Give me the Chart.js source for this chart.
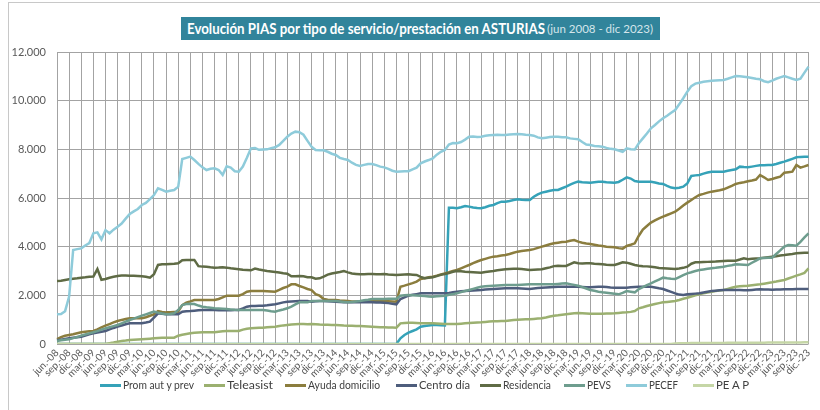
<!DOCTYPE html>
<html><head><meta charset="utf-8">
<script src="https://cdn.jsdelivr.net/npm/chart.js@4.4.1/dist/chart.umd.min.js"></script>
<style>
html,body{margin:0;padding:0;background:#fff;}
#wrap{position:relative;width:820px;height:410px;overflow:hidden;}
#frame{position:absolute;left:8px;top:2px;width:830px;height:430px;border:1px solid #C8C8C8;box-sizing:border-box;pointer-events:none;}
#title{position:absolute;left:181px;top:17px;width:479px;height:23px;background:#31849B;color:#fff;white-space:nowrap;
 font-family:Lato,sans-serif;line-height:23px;box-sizing:border-box;}
#title .t1{position:absolute;left:6px;top:0;font-size:15px;font-weight:bold;transform-origin:0 50%;}
#title .t2{position:absolute;left:366px;top:0;font-size:11.5px;color:#D5E6EB;transform-origin:0 50%;}
canvas{position:absolute;left:0;top:0;}
.lg{position:absolute;top:377px;height:16px;white-space:nowrap;line-height:16px;}
.lg i{position:absolute;left:0;top:7px;width:21px;height:3px;}
.lg span{position:absolute;left:23px;top:0;font-family:Lato,sans-serif;font-size:12px;color:#404040;transform-origin:0 50%;}
</style></head>
<body><div id="wrap">
<canvas id="c" width="820" height="410"></canvas>
<div id="frame"></div>
<div id="title"><span class="t1">Evolución PIAS por tipo de servicio/prestación en ASTURIAS</span><span class="t2">(jun 2008 - dic 2023)</span></div>
<div id="legend"></div>
</div>
<script>
const meses = ['ene','feb','mar','abr','may','jun','jul','ago','sep','oct','nov','dic'];
const seriesNames = ['Prom aut y prev','Teleasist','Ayuda domicilio','Centro día','Residencia','PEVS','PECEF','PE A P'];
const yTicks = [0,2000,4000,6000,8000,10000,12000];

const promAut = [
0,0,0,0,0,0,0,0,0,0,0,0,
0,0,0,0,0,0,0,0,0,0,0,0,
0,0,0,0,0,0,0,0,0,0,0,0,
0,0,0,0,0,0,0,0,0,0,0,0,
0,0,0,0,0,0,0,0,0,0,0,0,
0,0,0,0,0,0,0,0,0,0,0,0,
0,0,0,0,0,0,0,0,0,0,0,0,
0,233,370,466,534,603,712,740,760,781,781,770,
760,5600,5600,5576,5620,5672,5645,5610,5590,5576,5620,5680,
5713,5790,5850,5850,5880,5920,5946,5930,5918,5918,6050,6150,
6220,6260,6300,6329,6329,6400,6466,6550,6620,6672,6650,6640,
6630,6650,6672,6672,6650,6640,6630,6660,6750,6850,6800,6700,
6672,6672,6672,6672,6640,6600,6576,6500,6430,6398,6420,6466,
6600,6905,6930,6946,7000,7050,7082,7082,7082,7082,7120,7150,
7179,7288,7270,7260,7290,7320,7343,7350,7355,7357,7400,7450,
7494,7550,7610,7672,7690,7695,7700];

const teleasist = [
0,0,0,0,0,0,0,0,0,0,0,0,
0,30,60,96,120,140,164,172,182,192,205,220,
233,245,255,260,260,260,340,380,410,438,460,475,
480,480,480,480,500,520,534,534,534,534,590,630,
644,655,665,671,685,700,712,740,765,781,800,815,
822,822,815,822,815,800,795,790,785,781,770,760,
755,748,744,740,730,720,710,700,692,685,680,675,
671,849,865,877,870,862,855,852,850,849,840,830,
822,822,822,822,835,850,862,875,885,890,905,920,
930,937,942,945,968,990,1000,1010,1014,1014,1030,1045,
1055,1090,1130,1164,1180,1200,1219,1240,1260,1274,1265,1255,
1247,1247,1247,1247,1250,1255,1260,1275,1290,1301,1320,1356,
1466,1510,1560,1603,1640,1680,1712,1730,1750,1767,1810,1860,
1904,1950,2000,2041,2080,2115,2150,2175,2200,2219,2265,2310,
2356,2370,2385,2397,2415,2435,2452,2480,2510,2534,2565,2600,
2630,2690,2750,2808,2860,2920,3110];

const ayudaDomicilio = [
200,280,340,370,400,440,480,500,520,534,600,680,
753,820,890,945,990,1030,1055,1055,1055,1055,1100,1160,
1219,1356,1320,1300,1310,1320,1330,1600,1700,1750,1808,1808,
1808,1808,1808,1808,1850,1920,1986,1986,1986,1986,2050,2150,
2177,2177,2177,2177,2170,2160,2150,2220,2300,2356,2452,2452,
2384,2330,2260,2219,2050,1986,1850,1820,1810,1808,1790,1780,
1767,1750,1745,1740,1750,1760,1767,1767,1767,1767,1760,1750,
1740,2356,2400,2452,2500,2562,2671,2700,2740,2767,2810,2860,
2904,2950,3000,3041,3110,3180,3247,3320,3390,3452,3500,3550,
3590,3610,3640,3658,3700,3750,3795,3820,3840,3863,3900,3950,
4000,4050,4100,4137,4165,4190,4206,4240,4274,4206,4160,4130,
4110,4080,4050,4028,4000,3985,3973,3940,3918,4028,4080,4137,
4450,4700,4850,4987,5080,5160,5233,5300,5370,5439,5560,5690,
5809,5920,6030,6124,6170,6220,6261,6290,6320,6357,6430,6500,
6576,6620,6650,6686,6720,6760,6946,6850,6740,6780,6830,6880,
7041,7060,7082,7357,7250,7300,7357];

const centroDia = [
150,180,210,233,255,280,301,350,400,438,470,500,
534,600,660,712,760,810,849,849,849,849,880,918,
1082,1260,1240,1219,1219,1219,1219,1329,1350,1356,1370,1385,
1397,1397,1397,1397,1390,1385,1384,1390,1397,1397,1460,1534,
1560,1565,1570,1575,1590,1610,1630,1670,1710,1740,1750,1760,
1767,1767,1767,1740,1755,1767,1767,1760,1750,1740,1730,1720,
1712,1712,1712,1712,1712,1712,1712,1708,1704,1699,1680,1655,
1630,1850,1920,1986,2020,2050,2082,2082,2082,2082,2082,2082,
2082,2100,2125,2150,2165,2180,2190,2200,2210,2219,2235,2250,
2260,2270,2280,2288,2288,2288,2288,2278,2268,2260,2280,2300,
2315,2325,2335,2343,2350,2356,2356,2356,2356,2356,2345,2335,
2329,2340,2350,2356,2340,2325,2315,2315,2315,2315,2330,2345,
2356,2356,2356,2356,2325,2290,2260,2200,2140,2082,2030,2014,
2041,2055,2070,2082,2115,2150,2178,2190,2205,2219,2219,2219,
2219,2215,2210,2205,2220,2235,2247,2240,2235,2233,2238,2243,
2247,2250,2255,2260,2260,2260,2260];

const residencia = [
2590,2600,2630,2658,2680,2700,2726,2740,2760,2770,3080,2640,
2671,2720,2760,2795,2810,2810,2808,2800,2790,2781,2760,2726,
2863,3250,3280,3275,3290,3300,3316,3440,3450,3450,3455,3200,
3180,3170,3150,3138,3140,3150,3138,3110,3090,3070,3050,3040,
3028,3097,3060,3028,3000,2980,2960,2940,2910,2890,2780,2780,
2795,2780,2740,2740,2680,2700,2767,2850,2900,2931,2960,2999,
2945,2900,2880,2863,2870,2876,2876,2870,2870,2876,2860,2850,
2836,2850,2860,2863,2850,2840,2760,2700,2720,2740,2790,2840,
2876,2920,2970,3000,2990,2970,2960,2950,2940,2931,2960,2980,
3000,3030,3050,3070,3080,3090,3097,3080,3060,3042,3050,3060,
3070,3110,3150,3200,3220,3210,3206,3280,3357,3315,3310,3320,
3315,3300,3290,3274,3260,3250,3247,3300,3357,3343,3300,3250,
3220,3200,3190,3179,3150,3120,3110,3100,3090,3083,3100,3130,
3179,3300,3357,3357,3365,3375,3384,3390,3400,3412,3420,3425,
3425,3470,3521,3480,3500,3510,3521,3550,3570,3590,3610,3640,
3658,3680,3700,3726,3740,3750,3754];

const pevs = [
123,150,170,192,240,290,342,390,435,480,530,590,
644,690,735,781,850,920,986,1045,1105,1164,1220,1275,
1329,1290,1250,1219,1235,1260,1400,1600,1640,1657,1640,1580,
1534,1510,1490,1466,1455,1445,1438,1420,1405,1397,1397,1397,
1397,1397,1397,1397,1375,1350,1329,1380,1420,1466,1540,1630,
1712,1712,1712,1767,1767,1767,1767,1767,1767,1767,1750,1730,
1712,1730,1750,1767,1795,1820,1850,1850,1850,1850,1855,1860,
1863,1986,2000,2014,2005,1995,1986,1970,1955,1945,1960,1975,
1986,2020,2050,2082,2130,2175,2219,2265,2310,2356,2370,2385,
2397,2407,2416,2425,2425,2425,2425,2434,2443,2452,2452,2452,
2452,2452,2452,2452,2470,2485,2493,2460,2430,2397,2340,2280,
2219,2185,2150,2123,2105,2085,2068,2041,2100,2178,2150,2123,
2260,2340,2420,2493,2570,2650,2726,2700,2680,2671,2750,2830,
2904,2950,3000,3041,3065,3090,3110,3130,3155,3179,3210,3240,
3274,3265,3255,3247,3340,3430,3521,3530,3540,3548,3700,3850,
4000,4069,4060,4041,4200,4380,4548];

const pecef = [
1220,1230,1350,1950,3860,3900,3930,4050,4150,4550,4590,4300,
4680,4550,4700,4820,4950,5150,5340,5450,5550,5713,5800,5950,
6120,6400,6330,6261,6300,6330,6467,7600,7650,7700,7560,7400,
7260,7150,7200,7220,7150,6950,7300,7250,7100,7080,7290,7650,
8040,8050,7980,7990,8000,8050,8085,8180,8350,8521,8650,8727,
8700,8600,8350,8110,7970,7960,7960,7900,7820,7768,7650,7600,
7562,7450,7360,7316,7360,7400,7400,7350,7290,7260,7200,7120,
7080,7090,7100,7100,7180,7250,7425,7500,7560,7630,7780,7900,
7973,8200,8260,8250,8300,8400,8520,8530,8510,8520,8560,8580,
8590,8600,8590,8590,8610,8620,8630,8620,8600,8590,8560,8490,
8453,8480,8510,8520,8520,8500,8494,8450,8430,8412,8300,8200,
8179,8140,8130,8110,8060,8020,8000,7950,7900,8043,8000,7990,
8250,8450,8650,8865,9000,9150,9276,9380,9500,9617,9850,10100,
10370,10600,10700,10740,10780,10800,10822,10830,10840,10850,10900,10960,
11015,11000,10980,10960,10930,10900,10880,10800,10760,10820,10900,10960,
11015,10960,10900,10850,10900,11150,11400];

const peAP = [
0,0,0,0,0,0,0,0,0,0,0,0,
0,0,0,0,0,0,0,0,0,0,0,0,
0,0,0,0,0,0,0,0,0,0,0,0,
0,0,0,0,0,0,0,0,0,0,0,0,
0,0,0,0,0,0,0,0,0,0,0,0,
0,0,0,0,0,0,0,0,0,0,0,0,
0,0,0,0,0,0,0,0,0,0,0,0,
0,0,0,0,0,0,0,0,0,0,0,0,
0,0,0,0,0,0,0,0,0,0,0,0,
0,0,0,0,0,0,0,0,0,0,0,0,
0,0,0,0,0,0,0,0,0,0,0,0,
0,0,0,0,0,0,0,0,0,0,0,0,
0,0,0,0,0,0,0,0,0,20,30,35,
35,38,40,40,42,42,44,45,45,46,48,48,
50,50,52,52,54,55,55,56,58,58,60,60,
62,62,64,65,66,68,70];

// category labels jun.-08 ... dic.-23
const labels = [];
for (let i = 0; i < pecef.length; i++) {
  const m = (5 + i) % 12;
  const y = 8 + Math.floor((5 + i) / 12);
  labels.push(meses[m] + '.-' + String(y).padStart(2, '0'));
}

const colors = ['#35A2B8','#9BB070','#8B7D3E','#4E5D7C','#5F6B45','#6E9D8E','#8ECBDA','#C5D6A6'];
const values = [promAut, teleasist, ayudaDomicilio, centroDia, residencia, pevs, pecef, peAP];

const datasets = values.map((v, k) => ({
  label: seriesNames[k],
  data: v,
  borderColor: colors[k],
  backgroundColor: colors[k],
  borderWidth: 2.5,
  pointRadius: 0,
  tension: 0,
  order: values.length - k
}));

const FONT = "Lato, sans-serif";
const fmt = v => String(v).replace(/\B(?=(\d{3})+(?!\d))/g, '.');

new Chart(document.getElementById('c'), {
  type: 'line',
  data: { labels, datasets },
  options: {
    responsive: false,
    animation: false,
    devicePixelRatio: 1,
    layout: { padding: { left: 0, right: 11, top: 52, bottom: 0 } },
    plugins: {
      title: { display: false },
      tooltip: { enabled: false },
      legend: { display: false }
    },
    scales: {
      x: {
        offset: false,
        grid: {
          color: c => (c.index % 3 === 0 ? '#A3A3A3' : 'rgba(0,0,0,0)'),
          lineWidth: 1, drawTicks: false
        },
        border: { display: false },
        ticks: {
          autoSkip: false, maxRotation: 45, minRotation: 45, padding: 3,
          color: '#595959', font: { family: FONT, size: 10 },
          callback: (v, i) => (i % 3 === 0 ? labels[i] : '')
        },
        afterFit: s => { s.height = 66; }
      },
      y: {
        min: 0, max: 12000,
        afterBuildTicks: s => { s.ticks = yTicks.map(v => ({ value: v })); },
        grid: { color: '#A3A3A3', lineWidth: 1, drawTicks: false },
        border: { display: false },
        ticks: { padding: 11, color: '#595959', font: { family: FONT, size: 11 }, callback: v => fmt(v) },
        afterFit: s => { s.width = 57; }
      }
    }
  }
});

// legend (HTML, built from the series names/colours)
const legendX = [100, 204, 285, 396, 480, 564, 626, 693];
const legendTextW = [71, 46, 72, 51, 48, 24, 29, 33];
const lg = document.getElementById('legend');
seriesNames.forEach((n, k) => {
  const d = document.createElement('div');
  d.className = 'lg';
  d.style.left = legendX[k] + 'px';
  const sw = document.createElement('i');
  sw.style.background = colors[k];
  const t = document.createElement('span');
  t.textContent = n;
  d.appendChild(sw); d.appendChild(t);
  lg.appendChild(d);
  const w = t.getBoundingClientRect().width;
  if (w > 0) t.style.transform = 'scaleX(' + (legendTextW[k] / w) + ')';
});

// fit title spans to the reference widths
function fitSpan(sel, w) {
  const el = document.querySelector(sel);
  const r = el.getBoundingClientRect().width;
  if (r > 0) el.style.transform = 'scaleX(' + (w / r) + ')';
}
fitSpan('#title .t1', 358);
fitSpan('#title .t2', 106);
</script>
</body></html>
